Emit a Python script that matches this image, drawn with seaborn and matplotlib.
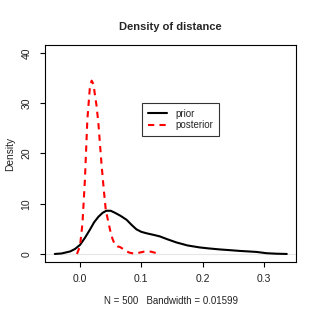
import matplotlib
matplotlib.use('Agg')
import matplotlib.pyplot as plt
import seaborn as sns

# density curves
prior_x = [-0.041, -0.030, -0.016, -0.008, 0.000, 0.008, 0.016, 0.023, 0.030, 0.037, 0.043,
           0.050, 0.057, 0.066, 0.076, 0.084, 0.092, 0.100, 0.109, 0.120, 0.130, 0.143,
           0.157, 0.175, 0.195, 0.210, 0.228, 0.245, 0.261, 0.275, 0.288, 0.304, 0.320, 0.337]
prior_y = [0.0, 0.1, 0.5, 1.0, 1.8, 3.2, 4.8, 6.3, 7.4, 8.2, 8.6,
           8.6, 8.2, 7.6, 6.8, 5.8, 4.9, 4.4, 4.1, 3.8, 3.5, 2.9,
           2.3, 1.7, 1.3, 1.1, 0.9, 0.75, 0.6, 0.5, 0.4, 0.15, 0.05, 0.0]

post_x = [-0.005, 0.000, 0.004, 0.008, 0.012, 0.016, 0.019, 0.022, 0.024, 0.027, 0.030,
          0.035, 0.039, 0.042, 0.046, 0.049, 0.053, 0.057, 0.061, 0.065, 0.070, 0.076,
          0.081, 0.087, 0.092, 0.098, 0.104, 0.111, 0.116, 0.122, 0.130]
post_y = [0.0, 1.5, 6.0, 14.7, 26.7, 33.0, 34.5, 33.8, 32.0, 29.5, 26.0,
          18.0, 12.5, 8.8, 6.5, 4.8, 3.0, 1.8, 1.5, 1.4, 1.0, 0.5,
          0.25, 0.1, 0.1, 0.3, 0.45, 0.5, 0.45, 0.25, 0.0]

x_ticks = [0.0, 0.1, 0.2, 0.3]
y_ticks = [0, 10, 20, 30, 40]

sns.set_style('white')
plt.rcParams['font.family'] = ['Liberation Sans', 'DejaVu Sans']

fig, ax = plt.subplots(figsize=(3.19, 3.19), dpi=100)
fig.subplots_adjust(left=45/319, right=296/319, bottom=1-262/319, top=1-45/319)

ax.axhline(0, color='#e6e6e6', linewidth=0.8, zorder=0)
sns.lineplot(x=prior_x, y=prior_y, sort=False, color='black', linewidth=1.5, label='prior', ax=ax)
sns.lineplot(x=post_x, y=post_y, sort=False, color='red', linewidth=1.5, label='posterior', ax=ax)
ax.lines[-1].set_dashes([3, 2.5])

ax.set_xlim(-0.057, 0.352)
ax.set_ylim(-1.6, 41.6)
ax.set_xticks(x_ticks)
ax.set_xticklabels(['0.0', '0.1', '0.2', '0.3'])
ax.set_yticks(y_ticks)
ax.tick_params(axis='both', direction='out', length=3.6, width=0.8, labelsize=7.5,
               bottom=True, left=True, color='black', labelcolor='#222222')
ax.tick_params(axis='x', pad=5)
ax.tick_params(axis='y', pad=6)
plt.setp(ax.get_yticklabels(), rotation=90, va='center')
for s in ax.spines.values():
    s.set_color('black')
    s.set_linewidth(0.8)

ax.set_title('Density of distance', fontsize=8, fontweight='bold', pad=11)
ax.set_ylabel('Density', fontsize=7.3, labelpad=5, color='#222222')
ax.set_xlabel('N = 500   Bandwidth = 0.01599', fontsize=7, labelpad=9, color='#222222')

leg = ax.legend(loc='upper left', bbox_to_anchor=(0.386, 0.733), fontsize=7,
                frameon=True, fancybox=False, edgecolor='black', handlelength=2.0,
                borderpad=0.6, labelspacing=0.15, borderaxespad=0)
leg.get_frame().set_linewidth(0.8)

fig.savefig('out.png', dpi=100)
